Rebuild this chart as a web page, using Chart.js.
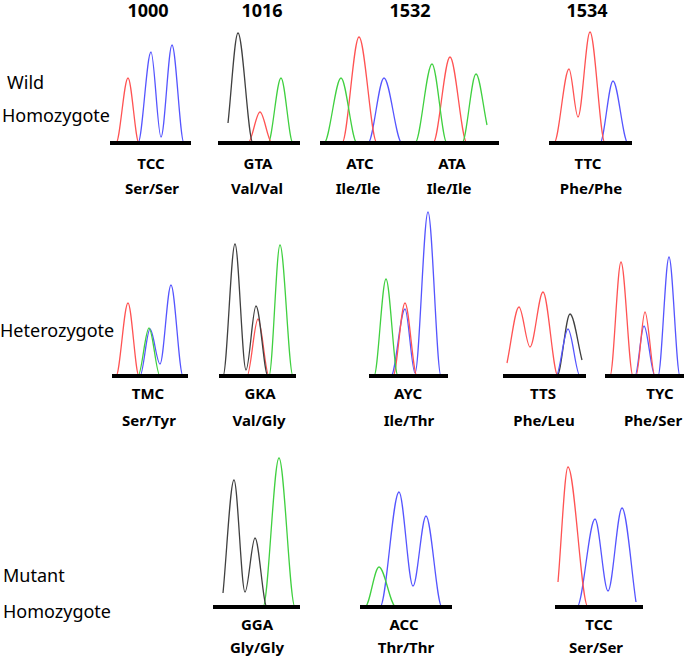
<!DOCTYPE html>
<html lang="en">
<head>
<meta charset="UTF-8">
<title>kdr genotypes</title>
<script src="https://cdn.jsdelivr.net/npm/chart.js@4.4.0/dist/chart.umd.min.js"></script>
<style>
  body { margin: 0; background: #fff; }
  #wrap { position: relative; width: 685px; height: 656px; font-family: "Noto Sans", sans-serif; color: #000; overflow: hidden; }
  #wrap canvas { position: absolute; }
  .t { position: absolute; transform: translate(-50%, -50%); white-space: nowrap; line-height: 1; }
  .locus { font-weight: bold; font-size: 18px; }
  .codon { font-weight: bold; font-size: 15px; }
  .row { position: absolute; font-size: 18px; line-height: 1; transform: translateY(-50%); white-space: nowrap; }
</style>
</head>
<body>
<div id="wrap"></div>
<script>
// column headers, row labels, base calls and amino acids
const loci = ['1000', '1016', '1532', '1534'];
const genotypes = ['Wild', 'Homozygote', 'Heterozygote', 'Mutant', 'Homozygote'];
const codons = ['TCC', 'GTA', 'ATC', 'ATA', 'TTC', 'TMC', 'GKA', 'AYC', 'TTS', 'TYC', 'GGA', 'ACC', 'TCC'];
const aminoAcids = ['Ser/Ser', 'Val/Val', 'Ile/Ile', 'Ile/Ile', 'Phe/Phe', 'Ser/Tyr', 'Val/Gly', 'Ile/Thr', 'Phe/Leu', 'Phe/Ser', 'Gly/Gly', 'Thr/Thr', 'Ser/Ser'];

// dye traces: [scan position, signal]
const wTCC = {
  red:  [[3,0],[6,0],[18,65],[29,0],[31,0]],
  blue: [[26,0],[28,0],[41,91],[51,6],[62,98],[74,0],[76,0]]
};
const wGTA = {
  black: [[10,20],[20,110],[35,0],[37,0]],
  red:   [[28,0],[30,0],[42,31],[54,0],[56,0]],
  green: [[48,0],[50,0],[63,65],[75,0],[77,0]]
};
const wATC = {
  green: [[2,0],[4,0],[21,65],[37,0],[95,0],[112,79],[127,0],[142,0],[156,69],[167,18]],
  red:   [[20,0],[22,0],[39,106],[57,0],[113,0],[130,86],[147,0],[149,0]],
  blue:  [[46,0],[48,0],[64,65],[82,0],[84,0]]
};
const wTTC = {
  red:  [[3,0],[5,0],[20,74],[29,26],[41,111],[56,0],[58,0]],
  blue: [[49,0],[51,0],[64,62],[79,0],[81,0]]
};
const hTMC = {
  red:   [[2,0],[4,0],[16,73],[27,0],[29,0]],
  green: [[24,0],[26,0],[37,48],[48,0],[50,0]],
  blue:  [[26,0],[28,0],[38,47],[48,12],[59,91],[71,0],[73,0]]
};
const hGKA = {
  black: [[2,0],[4,0],[16,132],[27,6],[37,70],[49,0],[51,0]],
  red:   [[26,0],[28,0],[39,57],[50,0],[52,0]],
  green: [[48,0],[50,0],[61,131],[74,0],[76,0]]
};
const hAYC = {
  green: [[3,0],[5,0],[17,97],[29,0],[31,0]],
  red:   [[22,0],[24,0],[36,73],[48,0],[50,0]],
  blue:  [[20,0],[22,0],[36,67],[46,3],[59,164],[72,0],[74,0]]
};
const hTTS = {
  red:   [[4,13],[16,69],[27,29],[40,84],[55,0],[57,0]],
  blue:  [[51,0],[53,0],[65,47],[77,0],[79,0]],
  black: [[52,0],[54,0],[67,62],[79,16]]
};
const hTYC = {
  red:  [[3,0],[5,0],[16,114],[28,0],[31,0],[40,64],[50,0],[52,0]],
  blue: [[28,0],[30,0],[39,50],[50,0],[53,0],[64,119],[75,0],[77,0]]
};
const mGGA = {
  black: [[10,14],[21,127],[32,15],[42,69],[54,0],[56,0]],
  green: [[48,0],[50,0],[66,149],[82,0],[84,0]]
};
const mACC = {
  green: [[3,0],[5,0],[19,40],[36,0],[38,0]],
  blue:  [[18,0],[20,0],[39,115],[53,21],[66,91],[82,0],[84,0]]
};
const mTCC = {
  red:  [[3,25],[13,140],[33,0],[35,0]],
  blue: [[20,0],[22,0],[40,88],[53,16],[67,99],[81,5]]
};

const panels = [wTCC, wGTA, wATC, wTTC, hTMC, hGKA, hAYC, hTTS, hTYC, mGGA, mACC, mTCC];

// layout: [left, width, baseline] for each panel
const panelBox = [
  [110, 81, 143], [218, 82, 143], [320, 179, 143], [549, 83, 143],
  [112, 76, 376], [219, 77, 376], [369, 79, 376], [503, 83, 376], [605, 79, 376],
  [213, 87, 607], [360, 92, 607], [555, 88, 607]
];
const locusX = [148, 262, 410, 587];
const rowPos = [[7, 82], [2, 115], [0, 330], [3, 575], [3, 611]];
const codonPos = [[151,163],[258,163],[360,163],[452,163],[588,163],
  [148,393],[260,393],[408,393],[543,393],[660,393],
  [257,624],[404,624],[599,624]];
const aaPos = [[152,188],[257,188],[358,188],[449,188],[591,188],
  [149,420],[259,420],[409,420],[544,420],[653,420],
  [257,647],[406,647],[596,647]];

const dyeColor = { red: '#ff5353', blue: '#5555ff', green: '#40d040', black: '#404040' };
const yTop = 170;

const wrap = document.getElementById('wrap');

function addText(txt, cls, x, y) {
  const d = document.createElement('div');
  d.className = cls;
  d.textContent = txt;
  d.style.left = x + 'px';
  d.style.top = y + 'px';
  wrap.appendChild(d);
}

loci.forEach((l, i) => addText(l, 't locus', locusX[i], 10));
genotypes.forEach((g, i) => addText(g, 'row', rowPos[i][0], rowPos[i][1]));
codons.forEach((c, i) => addText(c, 't codon', codonPos[i][0], codonPos[i][1]));
aminoAcids.forEach((a, i) => addText(a, 't codon', aaPos[i][0], aaPos[i][1]));

panels.forEach((tr, i) => {
  const [left, w, base] = panelBox[i];
  const cv = document.createElement('canvas');
  cv.width = w;
  cv.height = yTop + 4;
  cv.style.left = left + 'px';
  cv.style.top = (base - yTop) + 'px';
  wrap.appendChild(cv);

  new Chart(cv, {
    type: 'line',
    data: {
      datasets: Object.keys(tr).map(k => ({
        data: tr[k].map(p => ({ x: p[0], y: p[1] })),
        borderColor: dyeColor[k],
        borderWidth: 1.3,
        pointRadius: 0,
        fill: false,
        cubicInterpolationMode: 'monotone'
      }))
    },
    options: {
      responsive: false,
      animation: false,
      events: [],
      layout: { padding: { top: 0, left: 0, right: 0, bottom: 4 } },
      plugins: { legend: { display: false }, tooltip: { enabled: false } },
      scales: {
        x: {
          type: 'linear', min: 0, max: w,
          grid: { display: false, drawTicks: false },
          ticks: { display: false },
          border: { display: true, color: '#000', width: 4, z: 1 }
        },
        y: { min: 0, max: yTop, display: false }
      }
    }
  });
});
</script>
</body>
</html>
